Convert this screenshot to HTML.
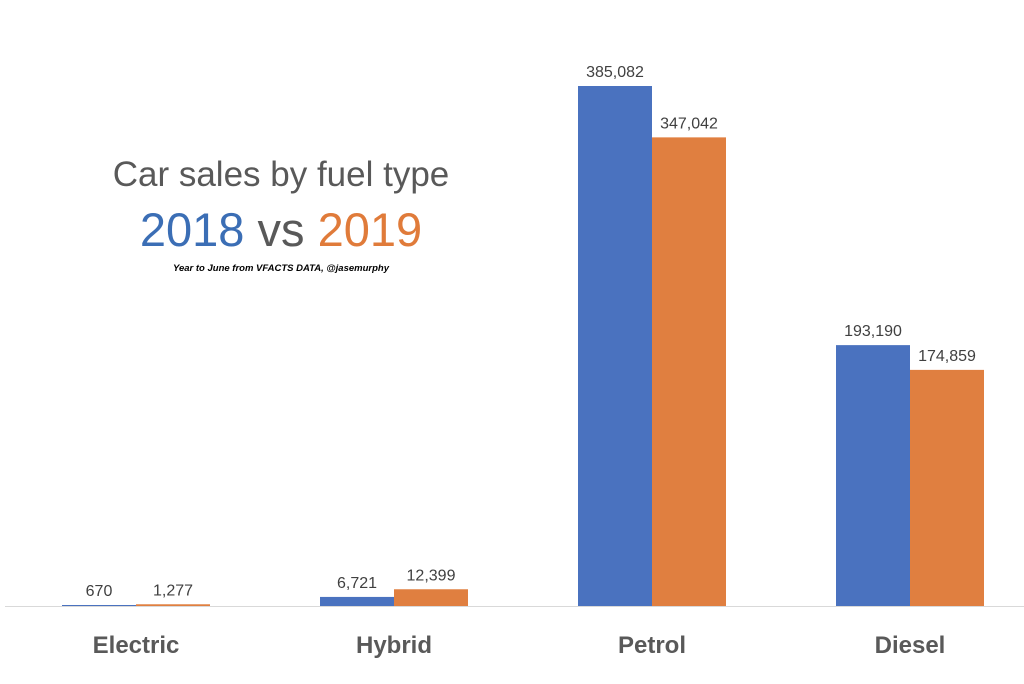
<!DOCTYPE html>
<html><head><meta charset="utf-8"><style>
body{margin:0;background:#fff;}
svg{display:block;font-family:"Liberation Sans",sans-serif;}
</style></head><body>
<svg id="chart" width="1024" height="684" viewBox="0 0 1024 684" xmlns="http://www.w3.org/2000/svg">
<text x="281" y="186" text-anchor="middle" font-size="35" fill="#595959">Car sales by fuel type</text>
<text x="281" y="246" text-anchor="middle" font-size="47"><tspan fill="#3b6eb5">2018</tspan><tspan fill="#595959"> vs </tspan><tspan fill="#e07b3a">2019</tspan></text>
<text x="281" y="271" text-anchor="middle" font-size="9.5" font-style="italic" font-weight="bold" fill="#000">Year to June from VFACTS DATA, @jasemurphy</text>
<line x1="5" y1="606.5" x2="1024" y2="606.5" stroke="#d9d9d9" stroke-width="1"/>
<g id="bars"></g>
</svg>
<script>
const categories=["Electric","Hybrid","Petrol","Diesel"];
const values2018=[670,6721,385082,193190];
const values2019=[1277,12399,347042,174859];
const labels2018=["670","6,721","385,082","193,190"];
const labels2019=["1,277","12,399","347,042","174,859"];
const ns="http://www.w3.org/2000/svg";
const baseY=606, plotTop=86, maxV=385082;
const yScale=v=>baseY-(v/maxV)*(baseY-plotTop);
const x0=7, band=258, bw=74;
const g=document.getElementById('bars');
function mk(t,a){const e=document.createElementNS(ns,t);for(const k in a)e.setAttribute(k,a[k]);return e;}
categories.forEach((c,i)=>{
  const cx=x0+band*i+band/2;
  [[values2018,labels2018,"#4a72bf",cx-bw,"2018"],[values2019,labels2019,"#e07f40",cx,"2019"]].forEach(([vals,labs,col,bx,yr])=>{
    const barTop=yScale(vals[i]);
    const r=mk('rect',{x:bx,y:Math.min(barTop,baseY-1),width:bw,height:Math.max(baseY-barTop,1),fill:col});
    
    
    g.appendChild(r);
    const t=mk('text',{x:bx+bw/2,y:barTop-9,'text-anchor':'middle','font-size':'16',fill:'#404040'});
    t.textContent=labs[i];
    
    
    g.appendChild(t);
  });
  const l=mk('text',{x:cx,y:653,'text-anchor':'middle','font-size':'24','font-weight':'bold',fill:'#595959'});
  l.textContent=c;
  
  
  g.appendChild(l);
});
</script>
</body></html>
